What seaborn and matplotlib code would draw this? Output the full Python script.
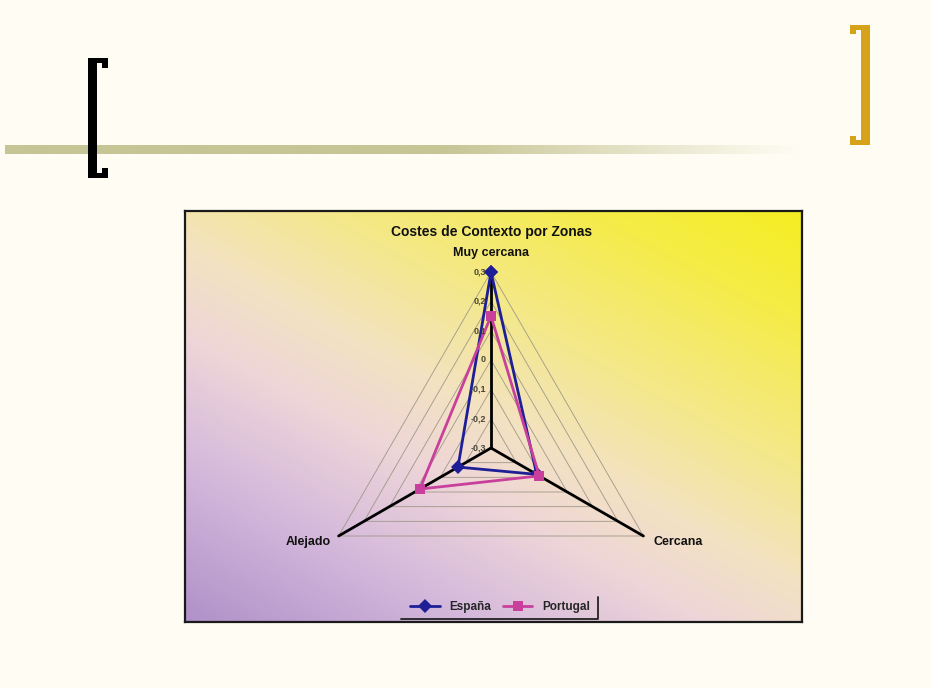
import numpy as np
import pandas as pd
import matplotlib
matplotlib.use("Agg")
import matplotlib.pyplot as plt
from matplotlib.colors import LinearSegmentedColormap, to_rgb
from matplotlib.patches import Rectangle
from matplotlib.lines import Line2D
from matplotlib.transforms import offset_copy
import seaborn as sns

# Datos del gráfico
zonas = ["Muy cercana", "Cercana", "Alejado"]
espana = [0.30, -0.12, -0.17]
portugal = [0.15, -0.11, -0.02]
niveles = [-0.3, -0.2, -0.1, 0.0, 0.1, 0.2, 0.3]
etiquetas_niveles = ["-0,3", "-0,2", "-0,1", "0", "0,1", "0,2", "0,3"]
titulo = "Costes de Contexto por Zonas"

sns.set_style("white")
plt.rcParams["font.family"] = ["Liberation Sans", "DejaVu Sans"]

fondo_diapo = "#FFFDF3"
fig = plt.figure(figsize=(9.31, 6.88), dpi=100)
fig.patch.set_facecolor(fondo_diapo)

W, H = 931, 688

def fx(x):
    return x / W

def fy(y):
    return 1 - y / H

# Decoración de la diapositiva
deco = fig.add_axes([0, 0, 1, 1])
deco.axis("off")

# linea olivo con degradado hacia el fondo
xs = np.linspace(0, 1, 400)
mezcla = np.clip((xs - 0.55) / 0.45, 0, 1)
c1 = np.array(to_rgb("#C6C595"))
c2 = np.array(to_rgb(fondo_diapo))
franja = (c1[None, :] * (1 - mezcla[:, None]) + c2[None, :] * mezcla[:, None])[None, :, :]
deco.imshow(franja, extent=[5, 800, 154, 145], aspect="auto", zorder=1)
deco.set_xlim(0, W)
deco.set_ylim(H, 0)

# corchete negro
for (x, y, w, h) in [(88, 58, 9, 120), (88, 58, 20, 5), (102, 58, 6, 10),
                     (88, 173, 20, 5), (102, 168, 6, 10)]:
    deco.add_patch(Rectangle((x, y), w, h, color="black", lw=0, zorder=2))

# corchete dorado
for (x, y, w, h) in [(861, 25, 9, 120), (850, 25, 20, 5), (850, 25, 6, 9),
                     (850, 140, 20, 5), (850, 136, 6, 9)]:
    deco.add_patch(Rectangle((x, y), w, h, color="#D6A21A", lw=0, zorder=2))

# Fondo del gráfico con degradado
caja = fig.add_axes([fx(185), fy(622), fx(802) - fx(185), fy(211) - fy(622)])
gx, gy = np.meshgrid(np.linspace(0, 1, 400), np.linspace(0, 1, 300))
t = 0.45 * gx + 0.55 * gy
cmap = LinearSegmentedColormap.from_list(
    "fondo",
    [(0.0, "#B091C9"), (0.22, "#D6BADC"), (0.38, "#EED5D8"),
     (0.5, "#F3E2C2"), (0.65, "#F4E88C"), (0.85, "#F5EC48"), (1.0, "#F5EE22")])
caja.imshow(t, cmap=cmap, origin="lower", extent=[0, 1, 0, 1], aspect="auto")
caja.set_xticks([])
caja.set_yticks([])
for s in caja.spines.values():
    s.set_color("#1A1A1A")
    s.set_linewidth(1.6)

# Radar
r_px = 176
cx, cy = 491, 448
ax = fig.add_axes([fx(cx - r_px), fy(cy + r_px), 2 * r_px / W, 2 * r_px / H],
                  projection="polar")
ax.patch.set_alpha(0)
ax.set_theta_offset(np.pi / 2)
ax.set_theta_direction(-1)
ax.set_ylim(-0.3, 0.3)
ax.grid(False)
ax.spines["polar"].set_visible(False)
ax.set_xticks([])
ax.set_yticks([])

angulos = np.linspace(0, 2 * np.pi, len(zonas), endpoint=False)
cerrado = np.append(angulos, 2 * np.pi)

# rejilla triangular
for lvl in niveles[1:]:
    ax.plot(cerrado, [lvl] * len(cerrado), color="#9E9888", lw=0.6, zorder=1)

# ejes radiales
for ang in angulos:
    ax.plot([ang, ang], [-0.3, 0.3], color="black", lw=2, zorder=2)

# etiquetas de nivel
for lvl, txt in zip(niveles, etiquetas_niveles):
    ax.text(0, lvl, txt, transform=offset_copy(ax.transData, fig=fig, x=-5, y=0, units="dots"),
            ha="right", va="center", fontsize=6.5, fontweight="bold",
            color="#4A4636", zorder=5)

df = pd.DataFrame({
    "theta": np.concatenate([cerrado, cerrado]),
    "valor": espana + [espana[0]] + portugal + [portugal[0]],
    "pais": ["España"] * 4 + ["Portugal"] * 4,
})

sns.lineplot(data=df, x="theta", y="valor", hue="pais", style="pais",
             markers={"España": "D", "Portugal": "s"}, dashes=False,
             sort=False, estimator=None, ax=ax, lw=2,
             palette={"España": "#1E1E96", "Portugal": "#C8409C"},
             markersize=7, markeredgewidth=0, zorder=4)
for ln in ax.lines:
    ln.set_clip_on(False)
ax.set_xlabel("")
ax.set_ylabel("")
ax.set_ylim(-0.3, 0.3)

# etiquetas de categorías
desp = [(0, 19, "center"), (10, -6, "left"), (-8, -6, "right")]
for ang, zona, (dx, dy, ha) in zip(angulos, zonas, desp):
    ax.text(ang, 0.3, zona, transform=offset_copy(ax.transData, fig=fig, x=dx, y=dy, units="dots"),
            ha=ha, va="center", fontsize=9, fontweight="bold", color="#111111")

fig.text(fx(492), fy(232), titulo, ha="center", va="center",
         fontsize=10, fontweight="bold", color="#111111")

sns.move_legend(ax, loc="center", bbox_to_anchor=(fx(500), fy(607)),
                bbox_transform=fig.transFigure, ncol=2, frameon=False, title=None,
                prop={"weight": "bold", "size": 8.5}, handlelength=2.5, columnspacing=1.0)

# sombra del cuadro de leyenda (estilo Excel)
fig.add_artist(Line2D([fx(401), fx(598), fx(598)], [fy(619), fy(619), fy(597)],
                      transform=fig.transFigure, color="#222222", lw=1.3))

fig.savefig("out.png", dpi=100, facecolor=fig.get_facecolor())
